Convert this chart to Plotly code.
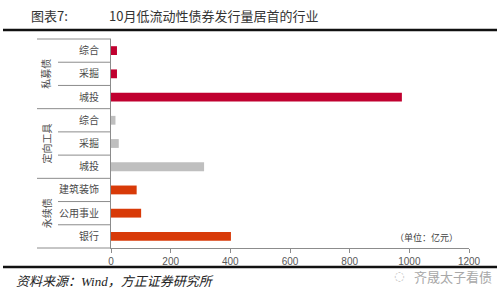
import plotly.graph_objects as go

# ---- data (top to bottom) ----
groups = ["私募债", "定向工具", "永续债"]
group_cats = [["综合", "采掘", "城投"],
              ["综合", "采掘", "城投"],
              ["建筑装饰", "公用事业", "银行"]]
group_vals = [[20, 20, 975],
              [15, 26, 312],
              [86, 101, 402]]
group_colors = ["#C0002F", "#BFBFBF", "#D83A08"]
x_ticks = [0, 200, 400, 600, 800, 1000, 1200]

title_left = "图表7:"
title_main = "10月低流动性债券发行量居首的行业"
source_text = "资料来源：Wind，方正证券研究所"
unit_text = "（单位：亿元）"
watermark = "齐晟太子看债"

FONT = "Noto Sans CJK SC"
W, H = 500, 301
L, R, T, B = 111, 31, 39, 53
PW, PH = W - L - R, H - T - B


def px_x(X):
    return (X - L) / PW


def px_y(Y):
    return (H - B - Y) / PH


fig = go.Figure()
all_keys, all_labels = [], []
for g, cats, vals, col in zip(groups, group_cats, group_vals, group_colors):
    keys = [f"{g}|{c}" for c in cats]
    all_keys += keys
    all_labels += cats
    fig.add_trace(go.Bar(
        y=keys, x=vals, orientation="h",
        marker=dict(color=col, line=dict(width=0)),
        width=0.38, showlegend=False, hoverinfo="x+y",
    ))

n = len(all_keys)
fig.update_yaxes(
    type="category", categoryorder="array", categoryarray=all_keys,
    autorange="reversed", tickmode="array", tickvals=all_keys, ticktext=all_labels,
    showline=True, linecolor="#8C8C8C", linewidth=1, ticks="", ticklabelstandoff=9,
    tickfont=dict(family=FONT, size=10, color="#4A4A4A"), showgrid=False,
)
fig.update_xaxes(
    range=[0, max(x_ticks)], tickmode="array", tickvals=x_ticks,
    showline=True, linecolor="#8C8C8C", linewidth=1, ticks="outside", ticklen=4,
    tickcolor="#8C8C8C", showgrid=False, zeroline=False,
    tickfont=dict(family="Liberation Sans, Arial", size=10, color="#595959"),
)

shapes = []
start = 0
group_bounds = {0}
for cats in group_cats:
    start += len(cats)
    group_bounds.add(start)
for k in range(n + 1):
    yp = 1 - k / n
    x0 = px_x(37) if k in group_bounds else px_x(58)
    shapes.append(dict(type="line", xref="paper", yref="paper", x0=x0, x1=0,
                       y0=yp, y1=yp, line=dict(color="#8C8C8C", width=1)))
for Y in (30, 267):
    shapes.append(dict(type="line", xref="paper", yref="paper",
                       x0=px_x(3), x1=px_x(497), y0=px_y(Y), y1=px_y(Y),
                       line=dict(color="#111111", width=2.5)))

annotations = []
start = 0
for g, cats in zip(groups, group_cats):
    mid = start + len(cats) / 2
    annotations.append(dict(text=g, xref="paper", yref="paper", x=px_x(46),
                            y=1 - mid / n, showarrow=False, textangle=-90,
                            font=dict(family=FONT, size=10, color="#4A4A4A"),
                            xanchor="center", yanchor="middle"))
    start += len(cats)

annotations += [
    dict(text=title_left, xref="paper", yref="paper", x=px_x(29), y=px_y(15),
         xanchor="left", yanchor="middle", showarrow=False,
         font=dict(family=FONT, size=13, color="#333333")),
    dict(text=title_main, xref="paper", yref="paper", x=px_x(107), y=px_y(15),
         xanchor="left", yanchor="middle", showarrow=False,
         font=dict(family=FONT, size=13, color="#333333")),
    dict(text=unit_text, xref="paper", yref="paper", x=px_x(426), y=px_y(237),
         xanchor="center", yanchor="middle", showarrow=False,
         font=dict(family=FONT, size=9, color="#404040")),
    dict(text="<i>" + source_text + "</i>", xref="paper", yref="paper", x=px_x(14), y=px_y(281),
         xanchor="left", yanchor="middle", showarrow=False,
         font=dict(family="Liberation Serif, " + FONT, size=13, color="#222222")),
    dict(text=watermark, xref="paper", yref="paper", x=px_x(412), y=px_y(276),
         xanchor="left", yanchor="middle", showarrow=False,
         font=dict(family=FONT, size=13, color="#A8A8A8")),
    dict(text="◌", xref="paper", yref="paper", x=px_x(399), y=px_y(276),
         xanchor="center", yanchor="middle", showarrow=False,
         font=dict(family="DejaVu Sans", size=12, color="#C0C0C0")),
]

fig.update_layout(
    width=W, height=H, margin=dict(l=L, r=R, t=T, b=B),
    paper_bgcolor="white", plot_bgcolor="white",
    shapes=shapes, annotations=annotations, bargap=0.6,
)

fig.write_html("out.html")
